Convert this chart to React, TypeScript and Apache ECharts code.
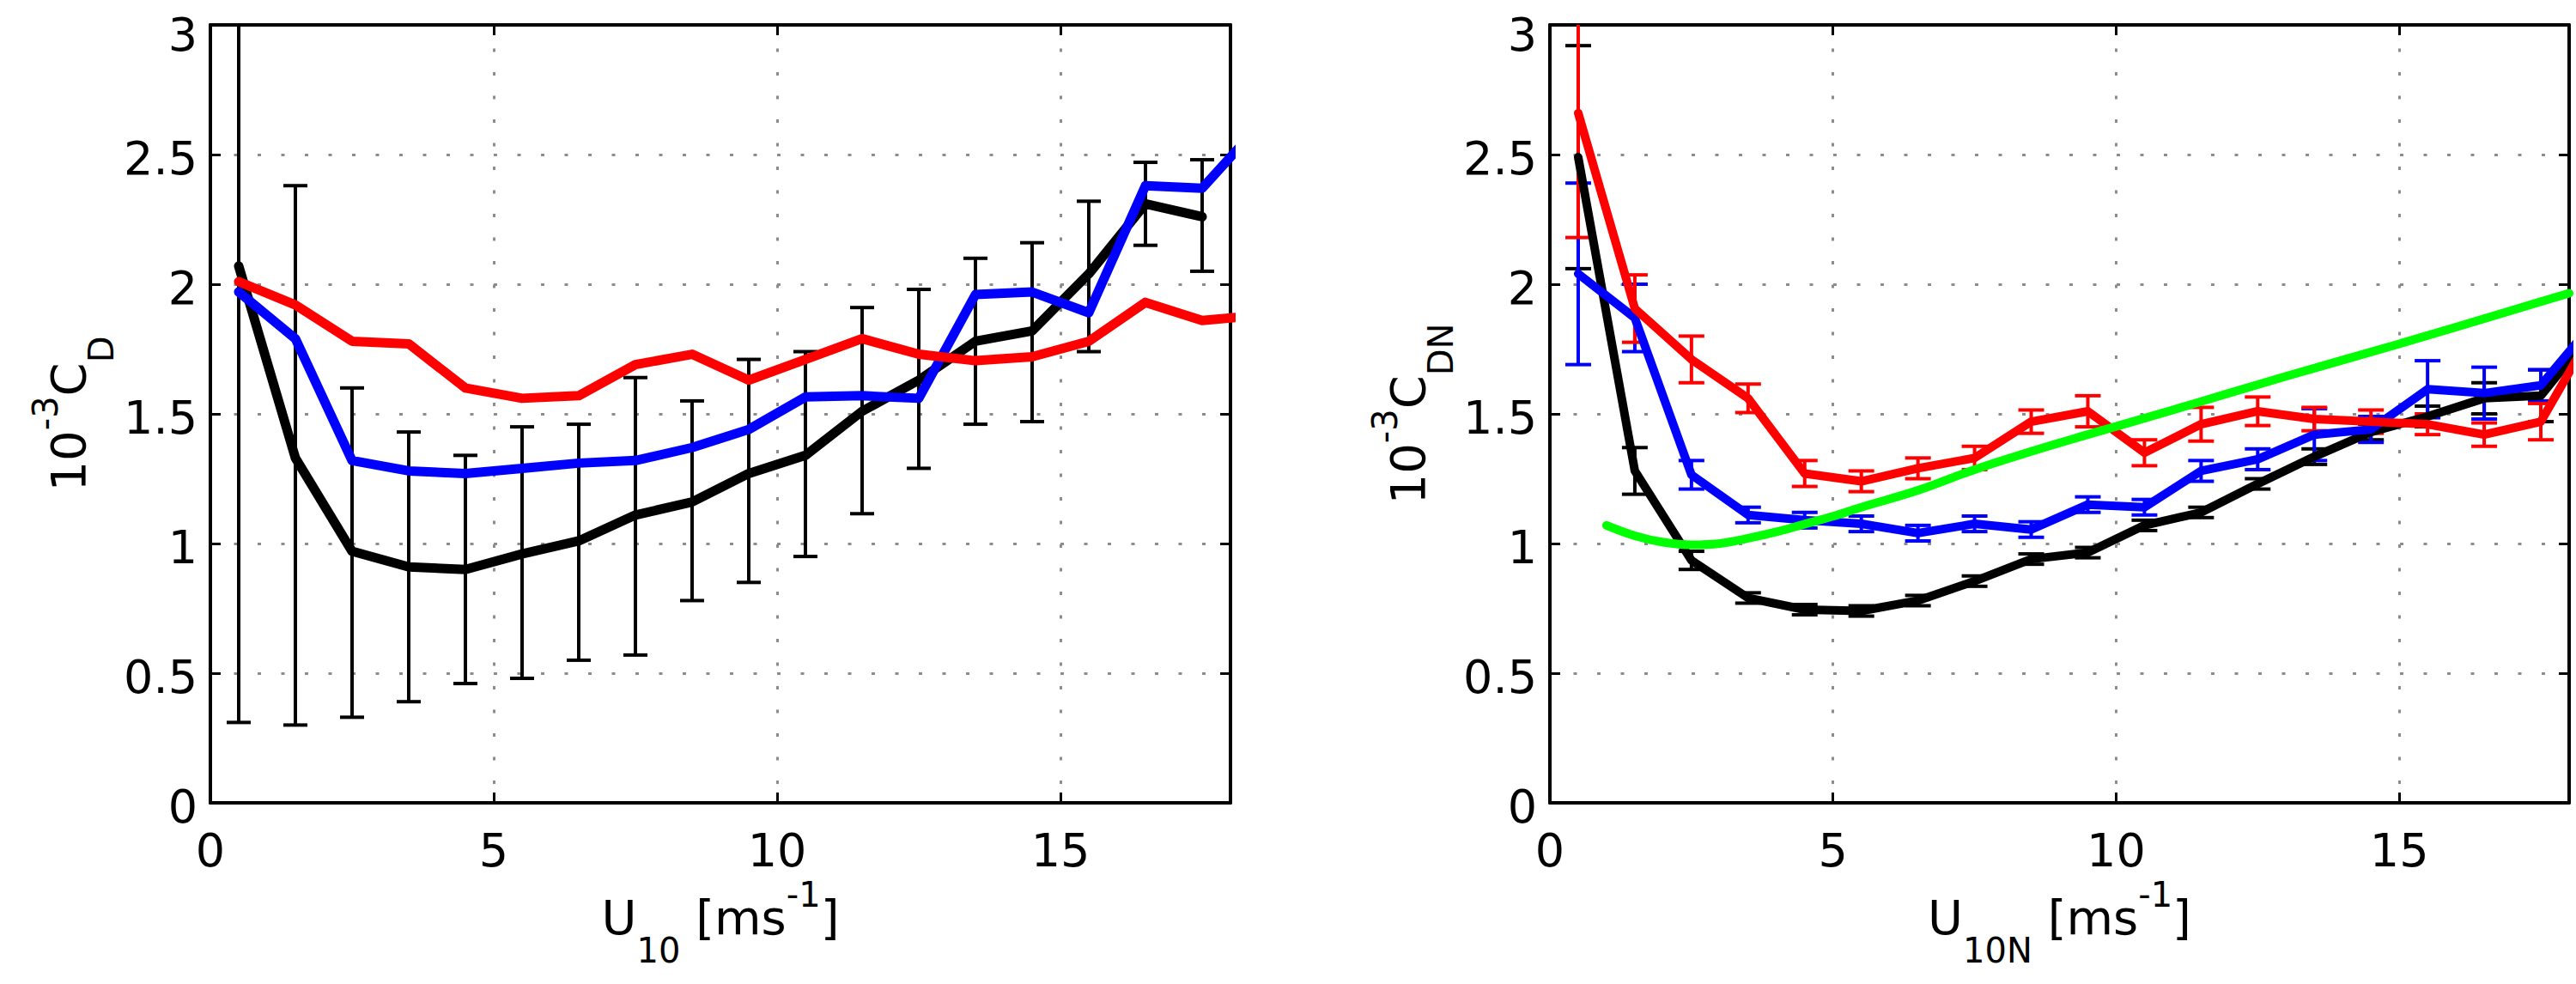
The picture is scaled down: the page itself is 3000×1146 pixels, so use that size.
import React, { useEffect, useRef } from "react";
import * as echarts from "echarts";

// ---------- data ----------
const binCenters = [0.5, 1.5, 2.5, 3.5, 4.5, 5.5, 6.5, 7.5, 8.5, 9.5, 10.5, 11.5, 12.5, 13.5, 14.5, 15.5, 16.5, 17.5, 18.5];

// left panel: 10^-3 C_D vs U10
const cdBlack = [2.07, 1.33, 0.97, 0.91, 0.9, 0.96, 1.01, 1.11, 1.16, 1.27, 1.34, 1.51, 1.63, 1.78, 1.82, 2.04, 2.31, 2.26, null];
const cdBlackLow = [0.31, 0.3, 0.33, 0.39, 0.46, 0.48, 0.55, 0.57, 0.78, 0.85, 0.95, 1.115, 1.29, 1.46, 1.47, 1.74, 2.15, 2.05];
const cdBlackHigh = [3.83, 2.38, 1.6, 1.43, 1.34, 1.45, 1.46, 1.64, 1.55, 1.71, 1.74, 1.91, 1.98, 2.1, 2.16, 2.32, 2.47, 2.48];
const cdBlue = [1.97, 1.79, 1.32, 1.28, 1.27, 1.29, 1.31, 1.32, 1.37, 1.44, 1.565, 1.57, 1.56, 1.96, 1.97, 1.89, 2.38, 2.37, 2.61];
const cdRed = [2.01, 1.92, 1.78, 1.77, 1.6, 1.56, 1.57, 1.69, 1.73, 1.63, 1.71, 1.79, 1.73, 1.705, 1.72, 1.78, 1.93, 1.86, 1.88];

// right panel: 10^-3 C_DN vs U10N
const cdnBlack = [2.49, 1.28, 0.935, 0.79, 0.745, 0.74, 0.78, 0.855, 0.94, 0.965, 1.07, 1.12, 1.23, 1.335, 1.43, 1.49, 1.56, 1.57, 1.84];
const cdnBlackErr = [0.43, 0.09, 0.035, 0.02, 0.02, 0.02, 0.02, 0.02, 0.02, 0.02, 0.02, 0.02, 0.02, 0.03, 0.03, 0.04, 0.06, 0.1];
const cdnBlue = [2.04, 1.87, 1.265, 1.11, 1.09, 1.076, 1.04, 1.076, 1.054, 1.15, 1.14, 1.28, 1.325, 1.42, 1.44, 1.595, 1.58, 1.61, 1.87];
const cdnBlueErr = [0.35, 0.13, 0.055, 0.03, 0.03, 0.03, 0.03, 0.03, 0.03, 0.03, 0.03, 0.04, 0.04, 0.1, 0.05, 0.11, 0.1, 0.06];
const cdnRed = [2.66, 1.906, 1.71, 1.56, 1.27, 1.24, 1.29, 1.33, 1.47, 1.51, 1.35, 1.46, 1.51, 1.48, 1.47, 1.46, 1.42, 1.47, 1.85];
const cdnRedErr = [0.48, 0.13, 0.09, 0.055, 0.05, 0.04, 0.04, 0.045, 0.045, 0.06, 0.05, 0.065, 0.055, 0.045, 0.045, 0.04, 0.045, 0.07];

const greenX = [1.0, 1.5, 2.0, 2.5, 3.0, 3.5, 4.0, 4.5, 5.0, 5.5, 6.5, 7.5, 8.5, 9.5, 11, 13, 15, 17, 18];
const greenY = [1.07, 1.03, 1.005, 0.995, 1.0, 1.02, 1.045, 1.075, 1.105, 1.14, 1.205, 1.285, 1.355, 1.42, 1.515, 1.645, 1.77, 1.9, 1.965];

// axes
const xMin = 0;
const xMax = 18;
const xStep = 5;
const yMin = 0;
const yMax = 3;
const yStep = 0.5;

// ---------- styles ----------
const FONT = "DejaVu Sans";
const RED = "#ff0000";
const BLUE = "#0000ff";
const BLACK = "#000000";
const GREEN = "#00ff00";

// rich-text line box of 105 px: main text centred at 47, superscript at 20, subscript at 85
const rich = {
  m: { fontFamily: FONT, fontSize: 56, lineHeight: 56, padding: [19, 0, 30, 0], color: "#000" },
  sub: { fontFamily: FONT, fontSize: 40, lineHeight: 40, padding: [65, 0, 0, 0], color: "#000" },
  sup: { fontFamily: FONT, fontSize: 40, lineHeight: 40, padding: [0, 0, 65, 0], color: "#000" },
};

const tickRich = {
  t: { fontFamily: FONT, fontSize: 54, lineHeight: 46, padding: [8, 0, 0, 0], color: "#000" },
  top: { fontFamily: FONT, fontSize: 54, lineHeight: 46, padding: [22, 0, 0, 0], color: "#000" },
};

const gridLine = { show: true, lineStyle: { color: "#8c8c8c", width: 3, type: [4, 23.5] } };
const axLine = { show: true, onZero: false, lineStyle: { color: "#000", width: 4 } };
const axTick = { show: true, inside: true, length: 12, lineStyle: { color: "#000", width: 3 } };

function xAxes(gridIndex: number, name: string) {
  return [
    {
      type: "value",
      gridIndex,
      position: "bottom",
      min: xMin,
      max: xMax,
      interval: xStep,
      axisLine: axLine,
      axisTick: axTick,
      splitLine: gridLine,
      axisLabel: { fontFamily: FONT, fontSize: 54, lineHeight: 54, color: "#000", margin: 28, showMaxLabel: false },
      name,
      nameLocation: "middle",
      nameGap: 100,
      nameTextStyle: { fontFamily: FONT, color: "#000", rich },
    },
    {
      type: "value",
      gridIndex,
      position: "top",
      min: xMin,
      max: xMax,
      interval: xStep,
      axisLine: axLine,
      axisTick: axTick,
      splitLine: { show: false },
      axisLabel: { show: false },
    },
  ];
}

function yAxes(gridIndex: number, name: string) {
  return [
    {
      type: "value",
      gridIndex,
      position: "left",
      min: yMin,
      max: yMax,
      interval: yStep,
      axisLine: axLine,
      axisTick: axTick,
      splitLine: gridLine,
      axisLabel: {
        fontFamily: FONT,
        fontSize: 54,
        color: "#000",
        margin: 15,
        formatter: (v: number) => (v >= yMax ? `{top|${v}}` : `{t|${v}}`),
        rich: tickRich,
      },
      name,
      nameLocation: "middle",
      nameGap: 132,
      nameTextStyle: { fontFamily: FONT, color: "#000", rich },
    },
    {
      type: "value",
      gridIndex,
      position: "right",
      min: yMin,
      max: yMax,
      interval: yStep,
      axisLine: axLine,
      axisTick: axTick,
      splitLine: { show: false },
      axisLabel: { show: false },
    },
  ];
}

function errorBars(axisIndex: number, data: number[][], color: string, width: number, cap: number) {
  return {
    type: "custom",
    xAxisIndex: axisIndex,
    yAxisIndex: axisIndex,
    clip: true,
    silent: true,
    encode: { x: 0, y: [1, 2] },
    data,
    renderItem: (params: any, api: any) => {
      const x = api.value(0);
      const lo = api.value(1);
      const hi = api.value(2);
      const pHi = api.coord([x, hi]);
      const pLo = api.coord([x, lo]);
      const h = cap / 2;
      const style = { stroke: color, lineWidth: width };
      return {
        type: "group",
        children: [
          { type: "line", shape: { x1: pHi[0], y1: pHi[1], x2: pLo[0], y2: pLo[1] }, style },
          { type: "line", shape: { x1: pHi[0] - h, y1: pHi[1], x2: pHi[0] + h, y2: pHi[1] }, style },
          { type: "line", shape: { x1: pLo[0] - h, y1: pLo[1], x2: pLo[0] + h, y2: pLo[1] }, style },
        ],
      };
    },
  };
}

function lineSeries(axisIndex: number, xs: number[], ys: (number | null)[], color: string, width: number, smooth: number | boolean = false) {
  const data: number[][] = [];
  xs.forEach((x, i) => {
    const v = ys[i];
    if (v !== null && v !== undefined) data.push([x, v]);
  });
  return {
    type: "line",
    xAxisIndex: axisIndex,
    yAxisIndex: axisIndex,
    data,
    showSymbol: false,
    symbol: "none",
    smooth,
    clip: true,
    silent: true,
    lineStyle: { color, width, join: "round", cap: "round" },
  };
}

function withErr(vals: number[], errs: number[]) {
  return errs.map((e, i) => [binCenters[i], vals[i] - e, vals[i] + e]);
}

export default function App() {
  const ref = useRef<HTMLDivElement>(null);

  useEffect(() => {
    if (!ref.current) return;
    const chart = echarts.init(ref.current, undefined, { renderer: "svg" });

    const leftErr = cdBlackLow.map((lo, i) => [binCenters[i], lo, cdBlackHigh[i]]);

    const option: any = {
      animation: false,
      backgroundColor: "#ffffff",
      grid: [
        { left: 245, top: 29, width: 1188, height: 906, outerBoundsMode: "none", containLabel: false },
        { left: 1805, top: 29, width: 1187, height: 906, outerBoundsMode: "none", containLabel: false },
      ],
      xAxis: [
        ...xAxes(0, "{m|U}{sub|10}{m| [ms}{sup|-1}{m|]}"),
        ...xAxes(1, "{m|U}{sub|10N}{m| [ms}{sup|-1}{m|]}"),
      ],
      yAxis: [
        ...yAxes(0, "{m|10}{sup|-3}{m|C}{sub|D}"),
        ...yAxes(1, "{m|10}{sup|-3}{m|C}{sub|DN}"),
      ],
      series: [
        // left panel
        errorBars(0, leftErr, BLACK, 4, 28),
        lineSeries(0, binCenters, cdBlack, BLACK, 11),
        lineSeries(0, binCenters, cdBlue, BLUE, 11),
        lineSeries(0, binCenters, cdRed, RED, 11),
        // right panel
        lineSeries(2, binCenters, cdnBlack, BLACK, 10),
        errorBars(2, withErr(cdnBlack, cdnBlackErr), BLACK, 4, 30),
        lineSeries(2, binCenters, cdnBlue, BLUE, 10),
        errorBars(2, withErr(cdnBlue, cdnBlueErr), BLUE, 4, 30),
        lineSeries(2, binCenters, cdnRed, RED, 10),
        errorBars(2, withErr(cdnRed, cdnRedErr), RED, 4, 30),
        lineSeries(2, greenX, greenY, GREEN, 10, 0.4),
      ],
    };

    chart.setOption(option);
    return () => {
      chart.dispose();
    };
  }, []);

  return (
    <div
      ref={ref}
      style={{ position: "fixed", left: 0, top: 0, width: 3000, height: 1146, background: "#fff" }}
    />
  );
}
